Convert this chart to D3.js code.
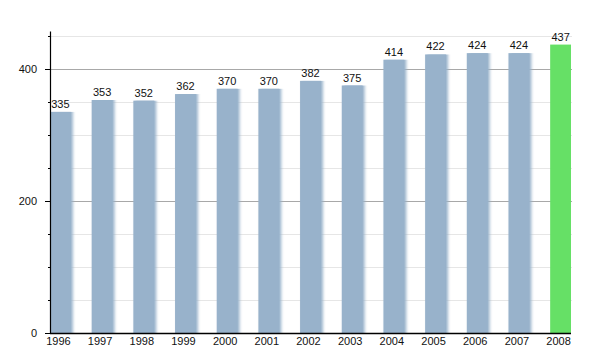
<!DOCTYPE html>
<html>
<head>
<meta charset="utf-8">
<script src="https://cdn.jsdelivr.net/npm/d3@7"></script>
<style>
  html, body { margin: 0; padding: 0; background: #fff; }
  svg { display: block; font-family: "Liberation Sans", Arial, sans-serif; }
</style>
</head>
<body>
<svg id="chart" width="600" height="350"></svg>
<script>
// Population by year
const years = ["1996", "1997", "1998", "1999", "2000", "2001", "2002", "2003", "2004", "2005", "2006", "2007", "2008"];
const values = [335, 353, 352, 362, 370, 370, 382, 375, 414, 422, 424, 424, 437];
const highlightYear = "2008";
const majorTicks = [0, 200, 400];
const minorTicks = [50, 100, 150, 250, 300, 350, 450];

const svg = d3.select("#chart");
const left = 50, right = 571, bottom = 333;

const x = d3.scaleBand().domain(years).range([left, right]).paddingInner(0.5).paddingOuter(0);
const y = d3.scaleLinear().domain([0, 400]).range([bottom, 69]);

// soft shading on the right edge of the bars
const defs = svg.append("defs");
const f = defs.append("filter").attr("id", "soft").attr("x", "-20%").attr("width", "160%");
f.append("feGaussianBlur").attr("in", "SourceGraphic").attr("stdDeviation", "1.6 0").attr("result", "b");
f.append("feOffset").attr("in", "b").attr("dx", 1.5).attr("result", "o");
f.append("feMerge").selectAll("feMergeNode").data(["o", "SourceGraphic"]).join("feMergeNode").attr("in", d => d);

// grid lines
svg.append("g").selectAll("line").data(minorTicks).join("line")
  .attr("x1", left).attr("x2", right + 1)
  .attr("y1", d => y(d) + 0.5).attr("y2", d => y(d) + 0.5)
  .attr("stroke", "#e6e6e6").attr("stroke-width", 1);
svg.append("g").selectAll("line").data(majorTicks.filter(d => d > 0)).join("line")
  .attr("x1", left).attr("x2", right + 1)
  .attr("y1", d => y(d) + 0.5).attr("y2", d => y(d) + 0.5)
  .attr("stroke", "#a8a8a8").attr("stroke-width", 1);

// bars
svg.append("g").selectAll("rect").data(years).join("rect")
  .attr("x", d => x(d))
  .attr("y", (d, i) => y(values[i]))
  .attr("width", x.bandwidth())
  .attr("height", (d, i) => bottom - y(values[i]))
  .attr("fill", d => d === highlightYear ? "#66e066" : "#98b2cb")
  .attr("filter", d => d === highlightYear ? null : "url(#soft)");

// value labels
svg.append("g").selectAll("text").data(years).join("text")
  .attr("x", d => x(d) + x.bandwidth() / 2)
  .attr("y", (d, i) => y(values[i]) - 4)
  .attr("text-anchor", "middle")
  .attr("font-size", 11)
  .attr("fill", "#111")
  .text((d, i) => values[i]);

// y axis
const yAxis = svg.append("g");
yAxis.append("line")
  .attr("x1", left + 0.5).attr("x2", left + 0.5)
  .attr("y1", y(457)).attr("y2", bottom)
  .attr("stroke", "#000").attr("stroke-width", 1.2);
yAxis.selectAll(".minor").data(minorTicks).join("line").attr("class", "minor")
  .attr("x1", left - 2).attr("x2", left)
  .attr("y1", d => y(d) + 0.5).attr("y2", d => y(d) + 0.5)
  .attr("stroke", "#000");
yAxis.selectAll(".major").data(majorTicks).join("line").attr("class", "major")
  .attr("x1", left - 5).attr("x2", left)
  .attr("y1", d => y(d) + 0.5).attr("y2", d => y(d) + 0.5)
  .attr("stroke", "#000");
yAxis.selectAll("text").data(majorTicks).join("text")
  .attr("x", left - 13)
  .attr("y", d => y(d) + 4)
  .attr("text-anchor", "end")
  .attr("font-size", 11)
  .attr("fill", "#111")
  .text(d => d);

// x axis
svg.append("line")
  .attr("x1", left).attr("x2", right)
  .attr("y1", bottom + 0.5).attr("y2", bottom + 0.5)
  .attr("stroke", "#000").attr("stroke-width", 1.3);
svg.append("g").selectAll("text").data(years).join("text")
  .attr("x", d => x(d) + x.bandwidth() / 2 - 2)
  .attr("y", bottom + 12)
  .attr("text-anchor", "middle")
  .attr("font-size", 11)
  .attr("fill", "#111")
  .text(d => d);
</script>
</body>
</html>
